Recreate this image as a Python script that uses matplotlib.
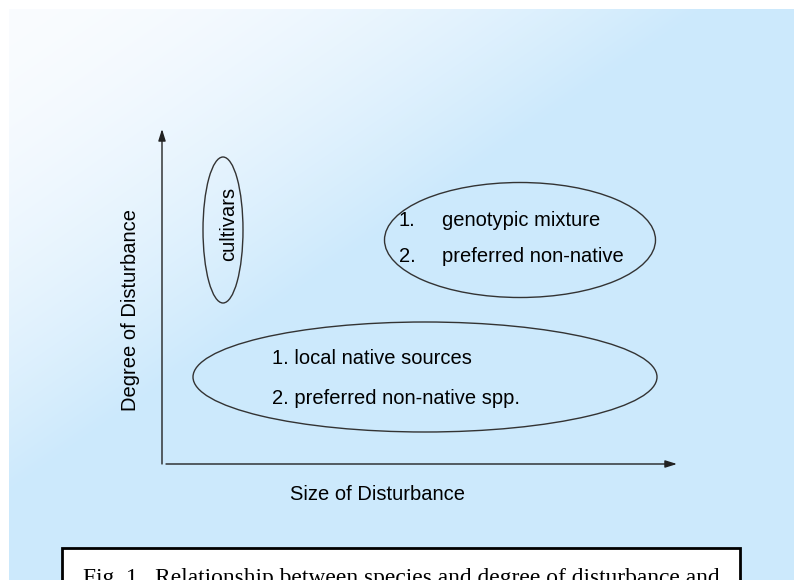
import numpy as np
import matplotlib
matplotlib.use('Agg')
import matplotlib.pyplot as plt
from matplotlib.patches import Ellipse, Rectangle

# diagram content (pixel coordinates of the 794x580 picture)
x_label = 'Size of Disturbance'
y_label = 'Degree of Disturbance'
ellipse_centers = [(223, 230), (520, 240), (425, 377)]
ellipse_sizes = [(40, 146), (271, 115), (464, 110)]
caption = 'Fig. 1.  Relationship between species and degree of disturbance and'

W, H = 794, 580
fig = plt.figure(figsize=(W / 100, H / 100), dpi=100)
ax = fig.add_axes([0, 0, 1, 1])
ax.set_xlim(0, W)
ax.set_ylim(H, 0)
ax.axis('off')

# background: white top-left fading into light blue
xx, yy = np.meshgrid(np.arange(W), np.arange(H))
t = np.clip(xx / 720 + yy / 500, 0, 1) ** 1.7
white = np.array([250, 252, 255]) / 255
blue = np.array([204, 233, 252]) / 255
img = white + (blue - white) * t[..., None]
img[:9, :, :] = 1
img[:, :9, :] = 1
ax.imshow(img, extent=[0, W, H, 0], zorder=0, aspect='auto')

font = dict(family='Liberation Sans', fontsize=14.5, color='black')

# axes arrows
ax.annotate('', xy=(162, 129), xytext=(162, 464),
            arrowprops=dict(arrowstyle='-|>,head_length=0.7,head_width=0.22',
                            color='#222222', lw=1.0, shrinkA=0, shrinkB=0))
ax.annotate('', xy=(677, 464), xytext=(166, 464),
            arrowprops=dict(arrowstyle='-|>,head_length=0.7,head_width=0.22',
                            color='#222222', lw=1.0, shrinkA=0, shrinkB=0))

ax.text(378, 494, x_label, ha='center', va='center', **font)
ax.text(131, 310, y_label, ha='center', va='center', rotation=90, **font)

for (cx, cy), (w, h) in zip(ellipse_centers, ellipse_sizes):
    ax.add_patch(Ellipse((cx, cy), w, h, fill=False, ec='#333333', lw=1.0, zorder=3))

ax.text(229, 224, 'cultivars', ha='center', va='center', rotation=90, **font)

ax.text(399, 220, '1.', ha='left', va='center', **font)
ax.text(442, 220, 'genotypic mixture', ha='left', va='center', **font)
ax.text(399, 256, '2.', ha='left', va='center', **font)
ax.text(442, 256, 'preferred non-native', ha='left', va='center', **font)

ax.text(272, 358, '1. local native sources', ha='left', va='center', **font)
ax.text(272, 398, '2. preferred non-native spp.', ha='left', va='center', **font)

# caption box, cut off at the bottom edge as in the original slide
ax.add_patch(Rectangle((62, 548), 678, 60, fc='white', ec='black', lw=2, zorder=4))
ax.text(83, 568, caption, ha='left', va='top', family='Liberation Serif',
        fontsize=16.9, color='black', zorder=5)

fig.savefig('out.png', dpi=100)
